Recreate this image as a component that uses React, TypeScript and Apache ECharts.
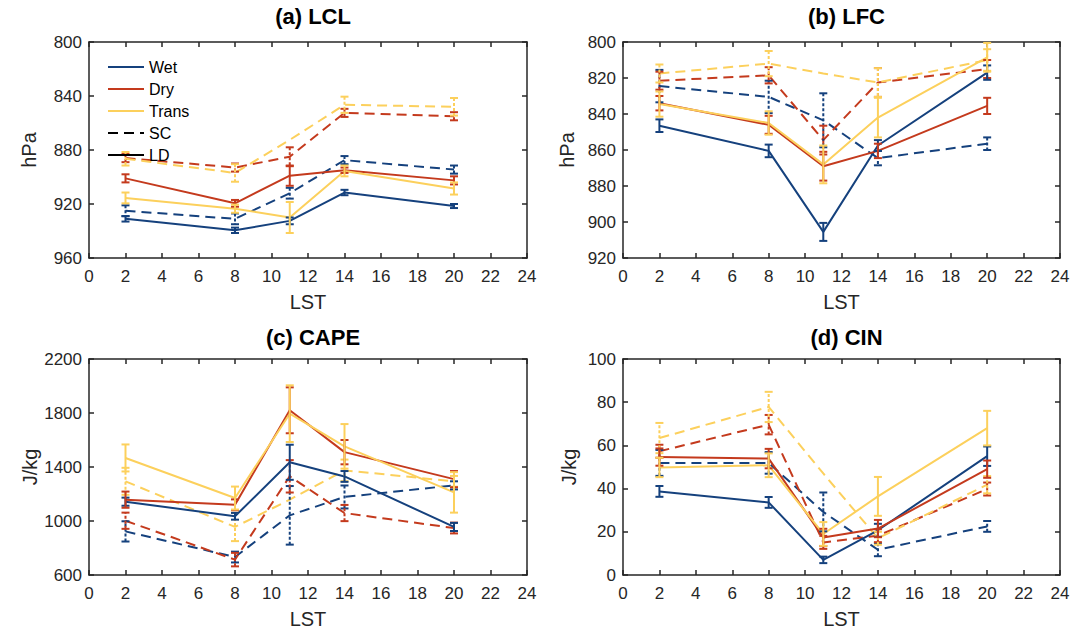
import React, { useEffect, useRef } from "react";
import * as echarts from "echarts";

// Local solar time of the soundings
const lst = [2, 8, 11, 14, 20];

// (a) LCL (hPa)
const lclWetLD = [931, 939.5, 932.5, 911.5, 921.5];
const lclWetLDErr = [2, 2, 2.5, 2, 1.5];
const lclDryLD = [901, 919.5, 899, 895, 902.5];
const lclDryLDErr = [3, 2.5, 7.5, 2, 3];
const lclTransLD = [915.5, 923.5, 930, 895.5, 908.5];
const lclTransLDErr = [4, 3, 11.5, 4, 4.5];
const lclWetSC = [925, 931, 912, 887.5, 894.5];
const lclWetSCErr = [4, 4, 4, 3, 3];
const lclDrySC = [886, 893, 885, 852.5, 855];
const lclDrySCErr = [3, 3, 7, 3, 3];
const lclTransSC = [886.5, 897, 872.5, 846.5, 848];
const lclTransSCErr = [5, 6.5, 0, 6, 6.5];

// (b) LFC (hPa)
const lfcWetLD = [846.5, 860.5, 905.5, 857.5, 817];
const lfcWetLDErr = [3.5, 3.5, 5, 3, 4];
const lfcDryLD = [834, 846, 869, 860.5, 835.5];
const lfcDryLDErr = [4, 5, 8, 4, 4.5];
const lfcTransLD = [834.5, 845, 868, 842, 808.5];
const lfcTransLDErr = [7, 6.5, 10.5, 11, 8];
const lfcWetSC = [824.5, 830.5, 843.5, 864.5, 856.5];
const lfcWetSCErr = [9, 9, 15, 4, 3.5];
const lfcDrySC = [821.5, 818.5, 854.5, 822.5, 815];
const lfcDrySCErr = [5, 4.5, 8, 8, 5];
const lfcTransSC = [817.5, 812, 817.5, 822.5, 810];
const lfcTransSCErr = [5, 7, 0, 8, 6];

// (c) CAPE (J/kg)
const capeWetLD = [1143, 1035, 1435, 1330, 956];
const capeWetLDErr = [30, 25, 130, 40, 30];
const capeDryLD = [1158, 1120, 1820, 1510, 1310];
const capeDryLDErr = [60, 40, 170, 90, 60];
const capeTransLD = [1467, 1170, 1795, 1553, 1212];
const capeTransLDErr = [100, 85, 210, 165, 150];
const capeWetSC = [923, 733, 1042, 1178, 1264];
const capeWetSCErr = [75, 40, 217, 85, 30];
const capeDrySC = [1002, 714, 1331, 1059, 948];
const capeDrySCErr = [60, 50, 120, 60, 40];
const capeTransSC = [1294, 956, 1158, 1375, 1294];
const capeTransSCErr = [100, 105, 0, 80, 40];

// (d) CIN (J/kg)
const cinWetLD = [38.7, 33.6, 7, 20.7, 55];
const cinWetLDErr = [2.5, 2.5, 1.5, 3, 4.5];
const cinDryLD = [54.6, 53.9, 17.4, 21.5, 49];
const cinDryLDErr = [4, 4.5, 4, 4, 4];
const cinTransLD = [49.8, 50.8, 19, 36.4, 68];
const cinTransLDErr = [4.5, 5.5, 5.5, 9, 8];
const cinWetSC = [51.9, 51.9, 29.2, 11.7, 22.5];
const cinWetSCErr = [6, 5, 9, 3, 2.5];
const cinDrySC = [57.3, 69.6, 15.1, 18.2, 39.8];
const cinDrySCErr = [3, 4.5, 3, 3, 3];
const cinTransSC = [63.4, 77.8, 47, 17, 41.8];
const cinTransSCErr = [7, 7, 0, 3, 4];

const panelTitles = ["(a) LCL", "(b) LFC", "(c) CAPE", "(d) CIN"];
const panelUnits = ["hPa", "hPa", "J/kg", "J/kg"];
const yMins = [800, 800, 600, 0];
const yMaxs = [960, 920, 2200, 100];
const yIntervals = [40, 20, 400, 20];
const yInverse = [true, true, false, false];

const legendNames = ["Wet", "Dry", "Trans", "SC", "LD"];

const BLUE = "#15417d";
const RED = "#c43a1d";
const YELLOW = "#fcd05c";
const AX = "#262626";
const FONT = "'Liberation Sans', Arial, Helvetica, sans-serif";

const legendColors = [BLUE, RED, YELLOW, "#000", "#000"];
const legendDashed = [false, false, false, true, false];

const grids = [
  { left: 89, top: 42, width: 438, height: 216 },
  { left: 623, top: 42, width: 437, height: 216 },
  { left: 89, top: 359, width: 438, height: 216 },
  { left: 623, top: 359, width: 437, height: 216 },
];
const titleTops = [0, 0, 321, 321];
const nameGaps = [50, 46, 42, 44];

type SeriesDef = { key: string; mean: number[]; err: number[]; color: string; dashed: boolean };

const panelSeries: SeriesDef[][] = [
  [
    { key: "Wet SC", mean: lclWetSC, err: lclWetSCErr, color: BLUE, dashed: true },
    { key: "Dry SC", mean: lclDrySC, err: lclDrySCErr, color: RED, dashed: true },
    { key: "Trans SC", mean: lclTransSC, err: lclTransSCErr, color: YELLOW, dashed: true },
    { key: "Wet LD", mean: lclWetLD, err: lclWetLDErr, color: BLUE, dashed: false },
    { key: "Dry LD", mean: lclDryLD, err: lclDryLDErr, color: RED, dashed: false },
    { key: "Trans LD", mean: lclTransLD, err: lclTransLDErr, color: YELLOW, dashed: false },
  ],
  [
    { key: "Wet SC", mean: lfcWetSC, err: lfcWetSCErr, color: BLUE, dashed: true },
    { key: "Dry SC", mean: lfcDrySC, err: lfcDrySCErr, color: RED, dashed: true },
    { key: "Trans SC", mean: lfcTransSC, err: lfcTransSCErr, color: YELLOW, dashed: true },
    { key: "Wet LD", mean: lfcWetLD, err: lfcWetLDErr, color: BLUE, dashed: false },
    { key: "Dry LD", mean: lfcDryLD, err: lfcDryLDErr, color: RED, dashed: false },
    { key: "Trans LD", mean: lfcTransLD, err: lfcTransLDErr, color: YELLOW, dashed: false },
  ],
  [
    { key: "Wet SC", mean: capeWetSC, err: capeWetSCErr, color: BLUE, dashed: true },
    { key: "Dry SC", mean: capeDrySC, err: capeDrySCErr, color: RED, dashed: true },
    { key: "Trans SC", mean: capeTransSC, err: capeTransSCErr, color: YELLOW, dashed: true },
    { key: "Wet LD", mean: capeWetLD, err: capeWetLDErr, color: BLUE, dashed: false },
    { key: "Dry LD", mean: capeDryLD, err: capeDryLDErr, color: RED, dashed: false },
    { key: "Trans LD", mean: capeTransLD, err: capeTransLDErr, color: YELLOW, dashed: false },
  ],
  [
    { key: "Wet SC", mean: cinWetSC, err: cinWetSCErr, color: BLUE, dashed: true },
    { key: "Dry SC", mean: cinDrySC, err: cinDrySCErr, color: RED, dashed: true },
    { key: "Trans SC", mean: cinTransSC, err: cinTransSCErr, color: YELLOW, dashed: true },
    { key: "Wet LD", mean: cinWetLD, err: cinWetLDErr, color: BLUE, dashed: false },
    { key: "Dry LD", mean: cinDryLD, err: cinDryLDErr, color: RED, dashed: false },
    { key: "Trans LD", mean: cinTransLD, err: cinTransLDErr, color: YELLOW, dashed: false },
  ],
];

function buildOption() {
  const xAxis: any[] = [];
  const yAxis: any[] = [];
  const series: any[] = [];
  const title: any[] = [];
  const lineSt = { color: AX, width: 1.5 };

  grids.forEach((g, i) => {
    const cx = g.left + g.width / 2;
    title.push({
      text: panelTitles[i],
      left: cx,
      top: titleTops[i],
      textAlign: "center",
      textStyle: { fontFamily: FONT, fontWeight: "bold", fontSize: 22, color: "#000" },
    });
    const baseX = {
      type: "value",
      gridIndex: i,
      min: 0,
      max: 24,
      interval: 2,
      splitLine: { show: false },
      axisLine: { show: true, onZero: false, lineStyle: lineSt },
      axisTick: { show: true, inside: true, length: 5, lineStyle: lineSt },
    };
    xAxis.push({
      ...baseX,
      position: "bottom",
      axisLabel: { color: AX, fontSize: 17, margin: 10, fontFamily: FONT },
      name: "LST",
      nameLocation: "middle",
      nameGap: 34,
      nameTextStyle: { color: AX, fontSize: 20, fontFamily: FONT },
    });
    xAxis.push({ ...baseX, position: "top", axisLabel: { show: false } });
    const baseY = {
      type: "value",
      gridIndex: i,
      min: yMins[i],
      max: yMaxs[i],
      interval: yIntervals[i],
      inverse: yInverse[i],
      splitLine: { show: false },
      axisLine: { show: true, onZero: false, lineStyle: lineSt },
      axisTick: { show: true, inside: true, length: 5, lineStyle: lineSt },
    };
    yAxis.push({
      ...baseY,
      position: "left",
      axisLabel: {
        color: AX,
        fontSize: 17,
        margin: 7,
        fontFamily: FONT,
        formatter: (v: number) => String(v),
      },
      name: panelUnits[i],
      nameLocation: "middle",
      nameGap: nameGaps[i],
      nameTextStyle: { color: AX, fontSize: 20, fontFamily: FONT },
    });
    yAxis.push({ ...baseY, position: "right", axisLabel: { show: false } });

    panelSeries[i].forEach((s) => {
      series.push({
        type: "line",
        name: s.key + " " + i,
        xAxisIndex: 2 * i,
        yAxisIndex: 2 * i,
        data: lst.map((x, k) => [x, s.mean[k]]),
        symbol: "none",
        showSymbol: false,
        color: s.color,
        lineStyle: { color: s.color, width: 2, type: s.dashed ? [10, 6] : "solid" },
        z: 3,
      });
      const color = s.color;
      const dashed = s.dashed;
      series.push({
        type: "custom",
        xAxisIndex: 2 * i,
        yAxisIndex: 2 * i,
        data: lst.map((x, k) => [x, s.mean[k], s.err[k]]),
        encode: { x: 0, y: 1 },
        z: 4,
        renderItem: (params: any, api: any) => {
          const x = api.value(0);
          const y = api.value(1);
          const e = api.value(2);
          if (!e) return { type: "group", children: [] };
          const p1 = api.coord([x, y - e]);
          const p2 = api.coord([x, y + e]);
          const cw = 4;
          const style = { stroke: color, lineWidth: 2, lineDash: dashed ? [3, 2] : null };
          const capStyle = { stroke: color, lineWidth: 2 };
          return {
            type: "group",
            children: [
              { type: "line", shape: { x1: p1[0], y1: p1[1], x2: p2[0], y2: p2[1] }, style },
              { type: "line", shape: { x1: p1[0] - cw, y1: p1[1], x2: p1[0] + cw, y2: p1[1] }, style: capStyle },
              { type: "line", shape: { x1: p2[0] - cw, y1: p2[1], x2: p2[0] + cw, y2: p2[1] }, style: capStyle },
            ],
          };
        },
      });
    });
  });

  // manual legend in panel (a)
  const graphic: any[] = [];
  legendNames.forEach((n, k) => {
    const y = 67 + k * 22;
    graphic.push({
      type: "line",
      shape: { x1: 108, y1: y, x2: 144, y2: y },
      style: { stroke: legendColors[k], lineWidth: 2, lineDash: legendDashed[k] ? [10, 6] : null },
      z: 10,
    });
    graphic.push({
      type: "text",
      x: 149,
      y: y,
      style: {
        text: n,
        fill: "#000",
        font: "16px " + FONT,
        textVerticalAlign: "middle",
        verticalAlign: "middle",
      },
      z: 10,
    });
  });

  return {
    animation: false,
    backgroundColor: "#fff",
    title,
    grid: grids.map((g) => ({ ...g })),
    xAxis,
    yAxis,
    series,
    graphic,
  };
}

export default function App() {
  const ref = useRef<HTMLDivElement>(null);
  useEffect(() => {
    if (!ref.current) return;
    const chart = echarts.init(ref.current, undefined, { renderer: "svg" });
    chart.setOption(buildOption() as any);
    return () => chart.dispose();
  }, []);
  return (
    <div
      ref={ref}
      style={{ position: "absolute", left: 0, top: 0, width: 1085, height: 632, background: "#fff" }}
    />
  );
}
